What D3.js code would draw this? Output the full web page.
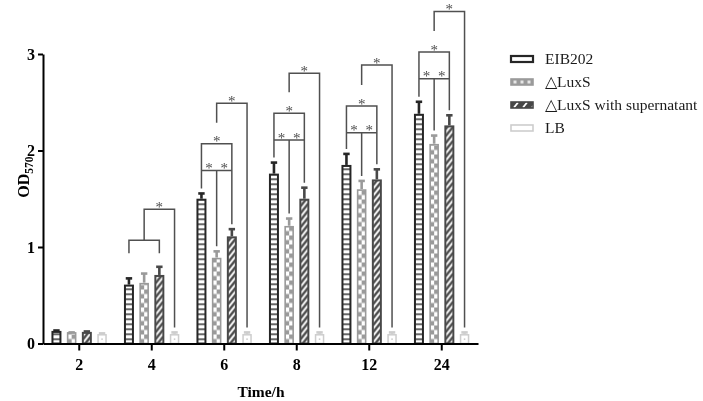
<!DOCTYPE html>
<html>
<head>
<meta charset="utf-8">
<script src="https://cdn.jsdelivr.net/npm/d3@7"></script>
<style>
  body { margin: 0; background: #fff; }
  text { font-family: "Liberation Serif", "Times New Roman", serif; }
  svg { will-change: transform; }
</style>
</head>
<body>
<div id="chart"></div>
<script>
// data
const groups = ["2", "4", "6", "8", "12", "24"];
const series = ["EIB202", "\u25B3LuxS", "\u25B3LuxS with supernatant", "LB"];
const eib202 = [0.12, 0.60, 1.49, 1.75, 1.84, 2.37];
const luxS = [0.11, 0.62, 0.88, 1.21, 1.59, 2.06];
const luxSSup = [0.11, 0.70, 1.10, 1.49, 1.69, 2.25];
const lb = [0.09, 0.09, 0.09, 0.09, 0.09, 0.09];
const eib202Err = [0.02, 0.08, 0.07, 0.13, 0.13, 0.14];
const luxSErr = [0.01, 0.11, 0.08, 0.09, 0.10, 0.10];
const luxSSupErr = [0.02, 0.10, 0.09, 0.13, 0.12, 0.12];
const lbErr = [0.02, 0.03, 0.03, 0.03, 0.03, 0.03];
const yTicks = [0, 1, 2, 3];

// significance brackets
const sigGroups = ["4", "6", "8", "12", "24"];
const sigBox = [1.07, 2.07, 2.385, 2.46, 3.02];
const sigOuter = [1.39, 2.49, 2.80, 2.886, 3.44];
const sigInner = [false, true, true, true, true];

const means = [eib202, luxS, luxSSup, lb];
const errs = [eib202Err, luxSErr, luxSSupErr, lbErr];
const colors = ["#262626", "#9a9a9a", "#484848", "#cdcdcd"];
const strokeW = [2, 1.6, 2, 1.5];

const width = 703, height = 401;

const svg = d3.select("#chart")
  .append("svg")
    .attr("width", width)
    .attr("height", height);
const defs = svg.append("defs");

const x = d3.scaleBand()
  .domain(groups)
  .range([43, 478]);

const xs = d3.scaleBand()
  .domain(series)
  .range([-34, 34])
  .padding(0.474);

const y = d3.scaleLinear()
  .domain([0, 3])
  .range([343.5, 54]);

const bw = xs.bandwidth();
function barX(gi, si) { return x(groups[gi]) + x.bandwidth() / 2 + xs(series[si]); }

const bars = [];
groups.forEach(function(g, gi) {
  series.forEach(function(s, si) {
    bars.push({gi: gi, si: si, v: means[si][gi], e: errs[si][gi]});
  });
});

// one fill pattern per bar, anchored to the bar's own x and the baseline
bars.forEach(function(d) {
  const bx = barX(d.gi, d.si);
  const id = "p" + d.gi + "_" + d.si;
  const p = defs.append("pattern")
    .attr("id", id)
    .attr("patternUnits", "userSpaceOnUse")
    .attr("x", bx)
    .attr("y", y(0))
    .attr("width", bw);
  if (d.si == 0) {
    p.attr("height", 5);
    p.append("rect").attr("width", bw).attr("height", 5).attr("fill", "#fff");
    p.append("rect").attr("width", bw).attr("height", 1.4).attr("fill", colors[0]);
  } else if (d.si == 1) {
    p.attr("height", 9);
    p.append("rect").attr("width", bw).attr("height", 9).attr("fill", colors[1]);
    p.append("rect").attr("x", 0).attr("y", 0).attr("width", bw / 2).attr("height", 4.5).attr("fill", "#fff");
    p.append("rect").attr("x", bw / 2).attr("y", 4.5).attr("width", bw / 2).attr("height", 4.5).attr("fill", "#fff");
  } else if (d.si == 2) {
    p.attr("height", 7);
    p.append("rect").attr("width", bw).attr("height", 7).attr("fill", "#fff");
    let path = "";
    for (let k = -2; k <= 3; k++) path += "M0," + (k * 7 + 10) + "L" + bw + "," + (k * 7);
    p.append("path").attr("d", path).attr("stroke", colors[2]).attr("stroke-width", 2.4);
  } else {
    p.attr("height", 10);
    p.append("rect").attr("width", bw).attr("height", 10).attr("fill", "#fff");
  }
  d.id = id;
});

// bars
svg.append("g")
  .selectAll("rect")
  .data(bars)
  .join("rect")
    .attr("x", function(d) { return barX(d.gi, d.si); })
    .attr("y", function(d) { return y(d.v); })
    .attr("width", bw)
    .attr("height", function(d) { return y(0) - y(d.v); })
    .attr("fill", function(d) { return "url(#" + d.id + ")"; })
    .attr("stroke", function(d) { return colors[d.si]; })
    .attr("stroke-width", function(d) { return strokeW[d.si]; });

// little dot inside the LB bars
svg.append("g")
  .selectAll("rect")
  .data(bars.filter(function(d) { return d.si == 3; }))
  .join("rect")
    .attr("x", function(d) { return barX(d.gi, d.si) + bw / 2 - 0.75; })
    .attr("y", function(d) { return (y(d.v) + y(0)) / 2 - 0.75; })
    .attr("width", 1.5)
    .attr("height", 1.5)
    .attr("fill", "#c8c8c8");

// error bars (upper only)
const eb = svg.append("g")
  .selectAll("g")
  .data(bars)
  .join("g")
    .attr("stroke", function(d) { return colors[d.si]; })
    .attr("stroke-width", 2.6);
eb.append("line")
  .attr("x1", function(d) { return barX(d.gi, d.si) + bw / 2; })
  .attr("x2", function(d) { return barX(d.gi, d.si) + bw / 2; })
  .attr("y1", function(d) { return y(d.v) - 1; })
  .attr("y2", function(d) { return y(d.v + d.e); });
eb.append("line")
  .attr("x1", function(d) { return barX(d.gi, d.si) + bw / 2 - 3.2; })
  .attr("x2", function(d) { return barX(d.gi, d.si) + bw / 2 + 3.2; })
  .attr("y1", function(d) { return y(d.v + d.e) + 0.5; })
  .attr("y2", function(d) { return y(d.v + d.e) + 0.5; });

// axes
const yAxis = svg.append("g")
  .attr("transform", "translate(43,0)")
  .call(d3.axisLeft(y).tickValues(yTicks).tickFormat(d3.format("d")).tickSize(5).tickSizeOuter(0).tickPadding(3));
const xAxis = svg.append("g")
  .attr("transform", "translate(0,343.5)")
  .call(d3.axisBottom(x).tickSize(7).tickSizeOuter(0).tickPadding(8));
[yAxis, xAxis].forEach(function(a) {
  a.select(".domain").attr("stroke", "#000").attr("stroke-width", 2);
  a.selectAll(".tick line").attr("stroke", "#000").attr("stroke-width", 2);
  a.selectAll(".tick text")
    .attr("fill", "#000")
    .style("font-family", "'Liberation Serif', serif")
    .style("font-size", "16px")
    .style("font-weight", "bold");
});

svg.append("text")
  .attr("x", 261)
  .attr("y", 397)
  .attr("text-anchor", "middle")
  .style("font-size", "15.5px")
  .style("font-weight", "bold")
  .text("Time/h");

const yl = svg.append("text")
  .attr("transform", "translate(29,177) rotate(-90)")
  .attr("text-anchor", "middle")
  .style("font-size", "16px")
  .style("font-weight", "bold");
yl.append("tspan").text("OD");
yl.append("tspan").attr("dy", 4).style("font-size", "11.5px").text("570");

// significance brackets
const sig = svg.append("g")
  .attr("fill", "none")
  .attr("stroke", "#505050")
  .attr("stroke-width", 1.5);
const stars = [];
function cx(gi, si) { return barX(gi, si) + bw / 2; }
function legEnd(gi, si) { return y(means[si][gi] + errs[si][gi]) - 4.5; }
sigGroups.forEach(function(g, k) {
  const gi = groups.indexOf(g);
  const top = y(sigBox[k]);
  const outer = y(sigOuter[k]);
  const c0 = cx(gi, 0), c1 = cx(gi, 1), c2 = cx(gi, 2), c3 = cx(gi, 3);
  let start;
  if (sigInner[k]) {
    const mid = top + 26.7;
    sig.append("path").attr("d", "M" + c0 + "," + legEnd(gi, 0) + "V" + top + "H" + c2 + "V" + legEnd(gi, 2));
    sig.append("path").attr("d", "M" + c0 + "," + mid + "H" + c2 + "M" + c1 + "," + mid + "V" + legEnd(gi, 1));
    stars.push([(c0 + c2) / 2, top], [(c0 + c1) / 2, mid], [(c1 + c2) / 2, mid]);
    start = top - 21;
  } else {
    sig.append("path").attr("d", "M" + c0 + "," + (top + 13) + "V" + top + "H" + c2 + "V" + (top + 13));
    start = top;
  }
  sig.append("path").attr("d", "M" + c1 + "," + start + "V" + outer + "H" + c3 + "V" + legEnd(gi, 3));
  stars.push([(c1 + c3) / 2, outer]);
});
svg.append("g")
  .attr("opacity", 0.99)
  .selectAll("text")
  .data(stars)
  .join("text")
    .attr("x", function(d) { return d[0]; })
    .attr("y", function(d) { return d[1] + 2.5; })
    .attr("text-anchor", "middle")
    .attr("fill", "#4a4a4a")
    .style("font-size", "15px")
    .text("*");

// legend
const legY = [59, 82, 105, 128];
const lg = svg.append("g");
series.forEach(function(s, i) {
  const lx = 511, ly = legY[i] - 3;
  const id = "lp" + i;
  const p = defs.append("pattern")
    .attr("id", id)
    .attr("patternUnits", "userSpaceOnUse")
    .attr("x", lx).attr("y", ly)
    .attr("width", 7).attr("height", 6);
  if (i == 1) {
    p.append("rect").attr("width", 7).attr("height", 6).attr("fill", colors[1]);
    p.append("rect").attr("x", 2.5).attr("y", 1.5).attr("width", 3).attr("height", 3).attr("fill", "#e6e6e6");
  } else if (i == 2) {
    p.attr("width", 9);
    p.append("rect").attr("width", 9).attr("height", 6).attr("fill", colors[2]);
    p.append("path").attr("d", "M3,5.5L7,0.5").attr("stroke", "#fff").attr("stroke-width", 1.8);
  } else {
    p.append("rect").attr("width", 7).attr("height", 6).attr("fill", "#fff");
  }
  lg.append("rect")
    .attr("x", lx).attr("y", ly)
    .attr("width", 22).attr("height", 6)
    .attr("fill", "url(#" + id + ")")
    .attr("stroke", colors[i])
    .attr("stroke-width", i == 0 ? 2.2 : 1.6);
  lg.append("text")
    .attr("x", 545)
    .attr("y", legY[i])
    .attr("dy", "0.35em")
    .attr("fill", "#1a1a1a")
    .style("font-size", "15.5px")
    .text(s);
});
</script>
</body>
</html>
